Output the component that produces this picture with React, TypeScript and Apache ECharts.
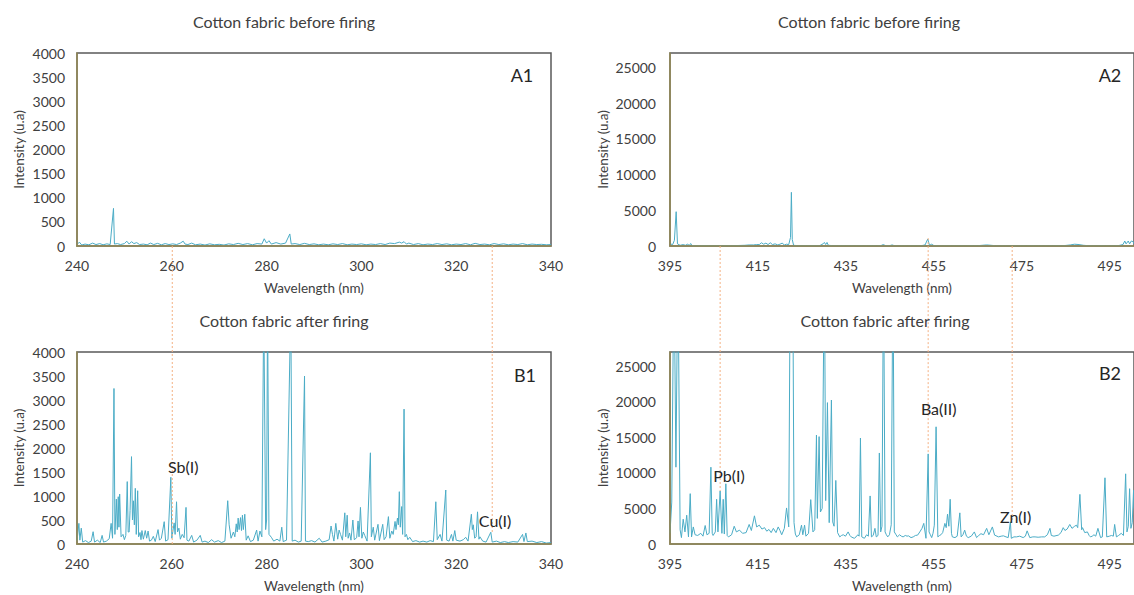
import { useEffect, useRef } from 'react';
import * as echarts from 'echarts';

// ---------- data: [wavelength (nm), intensity (u.a)] ----------
const a1Spectrum: number[][] = [
  [240.0, 30], [240.5, 80], [241.0, 20], [241.7, 40], [242.5, 25], [243.3, 60], [244.0, 30], [244.8, 50],
  [245.5, 25], [246.3, 45], [247.0, 30], [247.7, 780], [247.9, 40], [248.5, 50], [249.2, 30], [250.0, 50],
  [250.5, 100], [251.0, 40], [251.5, 90], [252.0, 50], [252.6, 70], [253.2, 30], [254.0, 40], [254.8, 25],
  [255.5, 60], [256.2, 30], [257.0, 55], [257.8, 25], [258.6, 50], [259.4, 30], [260.2, 45], [261.0, 30],
  [261.8, 60], [262.4, 100], [262.8, 40], [263.4, 30], [264.2, 60], [265.0, 25], [266.0, 40], [267.0, 20],
  [268.0, 45], [269.0, 25], [270.0, 35], [271.0, 20], [272.0, 45], [273.0, 30], [274.0, 55], [275.0, 30],
  [276.0, 50], [277.0, 25], [278.0, 50], [279.0, 40], [279.5, 150], [280.0, 60], [280.5, 110], [281.0, 40],
  [282.0, 70], [283.0, 40], [284.0, 60], [284.9, 250], [285.2, 40], [286.0, 50], [287.0, 30], [288.0, 55],
  [289.0, 30], [290.0, 45], [291.0, 25], [292.0, 40], [293.0, 25], [294.0, 45], [295.0, 30], [296.0, 50],
  [297.0, 25], [298.0, 40], [299.0, 30], [300.0, 45], [301.0, 25], [302.0, 40], [303.0, 30], [304.0, 50],
  [305.0, 30], [306.0, 60], [307.0, 50], [308.0, 80], [308.5, 60], [309.0, 90], [309.5, 40], [310.0, 60],
  [311.0, 30], [312.0, 50], [313.0, 25], [314.0, 40], [315.0, 30], [316.0, 50], [317.0, 30], [318.0, 45],
  [319.0, 25], [320.0, 40], [321.0, 30], [322.0, 50], [323.0, 25], [324.0, 55], [325.0, 30], [326.0, 40],
  [327.0, 25], [328.0, 50], [329.0, 30], [330.0, 45], [331.0, 25], [332.0, 40], [333.0, 30], [334.0, 50],
  [335.0, 25], [336.0, 40], [337.0, 30], [338.0, 35], [339.0, 25], [340.0, 30],
];

const a2Spectrum: number[][] = [
  [395.0, 300], [395.6, 200], [396.0, 800], [396.4, 4800], [396.7, 300], [397.3, 100], [398.0, 200],
  [398.5, 100], [399.0, 250], [399.4, 80], [399.7, 350], [400.0, 60], [401.0, 50], [402.0, 40], [403.0, 60],
  [404.0, 40], [405.0, 30], [406.0, 50], [407.0, 30], [408.0, 60], [409.0, 40], [410.0, 60], [411.0, 80],
  [412.0, 100], [413.0, 150], [414.0, 150], [414.7, 200], [415.3, 200], [415.8, 450], [416.3, 250],
  [416.8, 400], [417.3, 200], [417.8, 450], [418.3, 200], [418.9, 300], [419.5, 150], [420.0, 250],
  [420.5, 400], [421.0, 150], [421.5, 250], [422.0, 200], [422.4, 1200], [422.6, 7510], [422.8, 900],
  [423.1, 100], [424.0, 50], [425.0, 40], [426.0, 60], [427.0, 40], [428.0, 60], [429.0, 40], [429.8, 300],
  [430.1, 500], [430.4, 200], [430.7, 500], [431.0, 100], [432.0, 50], [433.0, 40], [434.0, 60], [435.0, 40],
  [436.0, 50], [437.0, 30], [438.0, 50], [439.0, 30], [440.0, 40], [441.0, 60], [442.0, 40], [443.0, 70],
  [443.5, 200], [444.0, 50], [445.0, 60], [445.5, 150], [446.0, 50], [447.0, 30], [448.0, 40], [449.0, 30],
  [450.0, 40], [451.0, 50], [452.0, 30], [453.0, 150], [453.6, 980], [454.0, 100], [454.5, 250], [455.0, 60],
  [456.0, 40], [457.0, 30], [458.0, 50], [459.0, 30], [460.0, 40], [461.0, 50], [462.0, 30], [463.0, 40],
  [464.0, 60], [465.0, 50], [466.0, 100], [467.0, 150], [468.0, 100], [469.0, 40], [470.0, 30], [471.0, 40],
  [472.0, 30], [473.0, 40], [474.0, 30], [475.0, 40], [476.0, 30], [477.0, 50], [478.0, 30], [479.0, 40],
  [480.0, 30], [481.0, 50], [482.0, 40], [483.0, 60], [484.0, 50], [485.0, 80], [486.0, 150], [487.0, 250],
  [488.0, 200], [489.0, 100], [490.0, 50], [491.0, 40], [492.0, 30], [493.0, 50], [494.0, 40], [495.0, 30],
  [496.0, 50], [497.0, 60], [498.0, 200], [498.4, 700], [498.7, 300], [499.2, 700], [499.5, 300],
  [499.9, 700], [500.3, 600], [500.5, 300],
];

const b1Spectrum: number[][] = [
  [240.0, 60], [240.4, 430], [240.6, 80], [240.9, 330], [241.2, 40], [241.8, 70], [242.4, 30], [243.0, 60],
  [243.4, 256], [243.7, 40], [244.3, 80], [244.9, 30], [245.3, 180], [245.6, 40], [246.2, 60], [246.8, 110],
  [247.2, 430], [247.5, 120], [247.8, 3240], [248.0, 200], [248.3, 935], [248.5, 300], [248.7, 985],
  [248.85, 350], [249.0, 1040], [249.3, 150], [249.7, 200], [250.0, 90], [250.3, 180], [250.6, 1300],
  [250.8, 250], [251.0, 250], [251.2, 700], [251.5, 1820], [251.7, 500], [251.9, 900], [252.1, 400],
  [252.3, 1160], [252.5, 200], [252.8, 1110], [253.0, 150], [253.3, 240], [253.5, 90], [253.7, 280],
  [254.0, 100], [254.4, 280], [254.7, 120], [255.0, 270], [255.3, 60], [255.7, 80], [256.1, 160], [256.5, 50],
  [257.1, 300], [257.4, 80], [257.8, 120], [258.4, 465], [258.7, 60], [259.2, 90], [259.8, 1390], [260.0, 120],
  [260.5, 440], [260.7, 200], [261.0, 880], [261.2, 250], [261.5, 330], [261.8, 100], [262.2, 200], [262.6, 130],
  [263.0, 763], [263.2, 80], [263.6, 60], [264.2, 180], [264.6, 40], [265.3, 80], [266.0, 180], [266.4, 40],
  [267.0, 60], [267.7, 30], [268.4, 90], [269.0, 40], [269.8, 70], [270.5, 30], [271.2, 60], [271.8, 902],
  [272.1, 400], [272.5, 120], [273.0, 250], [273.3, 150], [273.6, 420], [273.8, 250], [274.0, 540], [274.2, 300],
  [274.5, 550], [274.7, 280], [274.9, 600], [275.1, 300], [275.4, 620], [275.7, 80], [276.1, 170], [276.6, 50],
  [277.2, 80], [277.9, 290], [278.2, 60], [278.6, 270], [279.0, 150], [279.4, 5000], [279.8, 300], [280.0, 500],
  [280.2, 5000], [280.5, 200], [281.0, 140], [281.5, 60], [282.2, 100], [282.8, 60], [283.2, 350], [283.5, 50],
  [284.2, 80], [285.1, 5000], [285.4, 60], [286.0, 80], [286.7, 40], [287.3, 60], [288.0, 3500], [288.2, 60],
  [288.8, 50], [289.5, 70], [290.2, 40], [291.1, 120], [291.7, 40], [292.5, 60], [293.2, 90], [293.6, 375],
  [293.9, 200], [294.2, 60], [294.6, 430], [295.0, 100], [295.3, 290], [295.6, 200], [296.0, 80], [296.5, 650],
  [296.7, 150], [297.0, 600], [297.2, 120], [297.5, 230], [297.8, 80], [298.2, 500], [298.5, 90], [299.0, 130],
  [299.3, 480], [299.5, 150], [299.8, 763], [300.1, 120], [300.4, 250], [300.7, 180], [301.2, 60], [301.9, 1900],
  [302.1, 150], [302.5, 350], [302.8, 80], [303.5, 410], [303.8, 70], [304.5, 410], [304.8, 90], [305.2, 150],
  [305.7, 570], [306.0, 120], [306.4, 270], [306.7, 200], [307.1, 470], [307.3, 300], [307.6, 540], [307.8, 400],
  [308.0, 1090], [308.2, 350], [308.5, 780], [308.7, 200], [309.0, 2810], [309.2, 150], [309.5, 200], [309.8, 90],
  [310.2, 140], [310.8, 50], [311.5, 70], [312.3, 40], [313.0, 60], [313.8, 40], [314.5, 70], [315.2, 50],
  [315.7, 880], [316.0, 90], [316.6, 200], [317.0, 60], [317.8, 1125], [318.0, 80], [318.5, 60], [319.0, 200],
  [319.3, 60], [319.7, 280], [320.0, 80], [320.8, 60], [321.5, 90], [322.0, 140], [322.5, 60], [323.2, 620],
  [323.4, 300], [323.6, 400], [323.9, 120], [324.2, 150], [324.5, 670], [324.8, 100], [325.0, 150], [325.6, 60],
  [326.3, 40], [327.3, 245], [327.6, 40], [328.5, 60], [329.3, 30], [330.2, 50], [331.0, 30], [332.0, 50],
  [333.0, 40], [334.0, 200], [334.3, 50], [334.7, 230], [335.0, 50], [336.0, 60], [337.0, 30], [338.0, 50],
  [339.0, 20], [340.0, 30],
];

const b2Spectrum: number[][] = [
  [395.0, 1500], [395.4, 5900], [395.9, 40000], [396.35, 10800], [396.8, 40000], [397.3, 2000], [397.6, 900],
  [398.0, 3490], [398.4, 1700], [398.8, 4050], [399.2, 1000], [399.6, 7080], [399.9, 1000], [400.3, 2400],
  [400.7, 1300], [401.3, 1200], [402.0, 1500], [402.5, 1100], [403.0, 2600], [403.4, 1300], [403.9, 1500],
  [404.3, 10800], [404.6, 1500], [404.8, 1200], [405.3, 1700], [405.6, 6290], [405.9, 1700], [406.4, 7450],
  [406.8, 1500], [407.1, 6290], [407.35, 1400], [407.7, 8470], [408.0, 1200], [408.3, 1000], [409.0, 1300],
  [409.6, 2500], [410.1, 1700], [410.8, 1950], [411.5, 1500], [412.3, 1600], [413.0, 2750], [413.5, 1900],
  [414.2, 3960], [414.7, 2400], [415.3, 2650], [415.9, 2100], [416.5, 2300], [417.0, 1800], [417.5, 2050],
  [418.0, 1600], [418.5, 2200], [419.1, 1600], [419.6, 2400], [420.0, 1900], [420.4, 1300], [421.0, 2200],
  [421.5, 5070], [422.0, 2400], [422.35, 40000], [422.9, 40000], [423.2, 3000], [423.5, 1400], [423.8, 1000],
  [424.4, 1300], [424.9, 2650], [425.2, 1300], [425.6, 2650], [425.9, 1100], [426.5, 1500], [427.0, 6240],
  [427.5, 1700], [427.9, 2000], [428.3, 15320], [428.5, 3600], [428.9, 15100], [429.2, 4500], [429.6, 5000],
  [430.1, 40000], [430.4, 6100], [430.8, 19880], [431.2, 3000], [431.7, 20250], [432.0, 3100], [432.3, 2500],
  [432.7, 8940], [433.1, 1600], [433.6, 1000], [434.0, 1200], [434.4, 1300], [434.9, 1100], [435.5, 1700],
  [435.9, 1200], [436.2, 1000], [436.9, 800], [437.3, 1000], [437.7, 1300], [438.0, 1100], [438.3, 14900],
  [438.6, 1000], [439.2, 800], [439.7, 1300], [440.1, 1100], [440.5, 6760], [440.8, 1000], [441.2, 1200],
  [441.6, 2200], [441.9, 1000], [442.3, 1200], [442.6, 12800], [442.9, 1700], [443.2, 2500], [443.55, 40000],
  [443.9, 1700], [444.2, 1300], [444.5, 1000], [444.9, 1300], [445.3, 2700], [445.7, 40000], [446.0, 1700],
  [446.4, 1300], [446.7, 1000], [447.2, 1300], [447.6, 1100], [448.0, 1000], [448.5, 1200], [448.9, 1100],
  [449.2, 1150], [449.8, 900], [450.3, 1000], [450.8, 1200], [451.3, 1250], [451.8, 1700], [452.3, 2200],
  [452.7, 2900], [453.2, 800], [453.7, 12670], [453.9, 1700], [454.2, 1300], [454.5, 900], [454.8, 1500],
  [455.1, 2650], [455.5, 16480], [455.9, 1000], [456.3, 1200], [456.6, 1300], [457.0, 1600], [457.5, 2900],
  [457.8, 2300], [458.1, 4190], [458.4, 2500], [458.7, 6290], [459.0, 1500], [459.2, 1000], [459.8, 900],
  [460.3, 1100], [460.9, 4380], [461.2, 1000], [461.6, 1300], [462.0, 1950], [462.4, 1100], [462.8, 900],
  [463.5, 1100], [464.2, 1700], [464.7, 900], [465.2, 1200], [465.7, 1450], [466.3, 1300], [467.0, 2200],
  [467.5, 1300], [468.3, 2400], [468.8, 1250], [469.7, 1000], [470.3, 1100], [470.8, 1150], [471.4, 1000],
  [471.9, 900], [472.4, 3120], [472.6, 800], [473.2, 1000], [473.8, 1000], [474.5, 1100], [475.3, 900],
  [475.8, 1100], [476.2, 1850], [476.8, 900], [477.5, 1000], [478.0, 1000], [478.7, 950], [479.5, 1000],
  [480.2, 1000], [480.8, 1300], [481.4, 2200], [481.7, 1200], [482.3, 1100], [483.3, 1250], [483.9, 1600],
  [484.4, 2300], [484.8, 1900], [485.3, 2100], [485.9, 2750], [486.4, 2200], [487.0, 2500], [487.4, 2650],
  [487.7, 2300], [488.2, 6980], [488.6, 2000], [488.8, 2300], [489.3, 1600], [489.9, 1700], [490.3, 1200],
  [490.6, 1000], [491.0, 1100], [491.4, 1300], [491.8, 1100], [492.3, 2200], [492.9, 900], [493.3, 1000],
  [493.9, 9310], [494.3, 1000], [494.9, 1100], [495.4, 1200], [495.8, 1100], [496.1, 2750], [496.5, 1000],
  [497.0, 1200], [497.6, 1500], [498.1, 1200], [498.6, 9870], [498.9, 1700], [499.2, 2500], [499.5, 7780],
  [499.8, 2200], [500.1, 3000], [500.4, 7550], [500.5, 5000],
];

const leftXTicks = [240, 260, 280, 300, 320, 340];
const rightXTicks = [395, 415, 435, 455, 475, 495];
const leftYTicks = [0, 500, 1000, 1500, 2000, 2500, 3000, 3500, 4000];
const rightYTicks = [0, 5000, 10000, 15000, 20000, 25000];

const panelTitles = ['Cotton fabric before firing', 'Cotton fabric before firing', 'Cotton fabric after firing', 'Cotton fabric after firing'];
const panelLabels = ['A1', 'A2', 'B1', 'B2'];

// element annotations in panel B (wavelength, intensity of label centre)
const b1Annotations = [
  { text: 'Sb(I)', x: 262.4, y: 1620 },
  { text: 'Cu(I)', x: 328.2, y: 500 },
];
const b2Annotations = [
  { text: 'Pb(I)', x: 408.4, y: 9640 },
  { text: 'Ba(II)', x: 456.1, y: 19070 },
  { text: 'Zn(I)', x: 473.6, y: 3840 },
];

// dotted connector lines: wavelength, start intensity in A panel, end intensity in B panel
const leftConnectors = [
  { x: 260.1, from: 0, to: 0 },
  { x: 327.6, from: 0, to: 245 },
];
const rightConnectors = [
  { x: 406.4, from: 0, to: 7450 },
  { x: 453.7, from: 1100, to: 12670 },
  { x: 472.8, from: 0, to: 3120 },
];

const FONT = 'Lato, "Open Sans", sans-serif';
const TEXT = '#404040';
const LINE = '#4bacc6';

export default function App() {
  const ref = useRef<HTMLDivElement>(null);

  useEffect(() => {
    if (!ref.current) return;
    const chart = echarts.init(ref.current, null, { renderer: 'svg' });

    const grids = [
      { left: 77, top: 53, width: 474, height: 193 },
      { left: 670, top: 53, width: 464, height: 193 },
      { left: 77, top: 352, width: 474, height: 192 },
      { left: 670, top: 352, width: 464, height: 192 },
    ].map((g) => ({ ...g, show: true, borderColor: '#595959', borderWidth: 1.5, backgroundColor: 'transparent' }));

    const xAxis = [0, 1, 2, 3].map((i) => {
      const left = i % 2 === 0;
      return {
        type: 'value',
        gridIndex: i,
        min: left ? 240 : 395,
        max: left ? 340 : 500.5,
        ...(left ? { interval: 20 } : {}),
        axisLine: { show: true, onZero: false, lineStyle: { color: '#948a54', width: 1.5 } },
        axisTick: { show: false },
        splitLine: { show: false },
        axisLabel: {
          color: TEXT, fontSize: 14, fontFamily: FONT, margin: 12,
          customValues: left ? leftXTicks : rightXTicks,
          formatter: (v: number) => String(v),
        },
        name: 'Wavelength (nm)',
        nameLocation: 'middle',
        nameGap: 35,
        nameTextStyle: { color: TEXT, fontSize: 13.5, fontFamily: FONT },
        z: 3,
      };
    });

    const yAxis = [0, 1, 2, 3].map((i) => {
      const left = i % 2 === 0;
      return {
        type: 'value',
        gridIndex: i,
        min: 0,
        max: left ? 4000 : 27000,
        interval: left ? 500 : 5000,
        axisLine: { show: true, onZero: false, lineStyle: { color: '#948a54', width: 1.5 } },
        axisTick: { show: false },
        splitLine: { show: false },
        axisLabel: {
          color: TEXT, fontSize: 14, fontFamily: FONT, margin: left ? 12 : 14,
          customValues: left ? leftYTicks : rightYTicks,
          formatter: (v: number) => String(v),
        },
        name: 'Intensity (u.a)',
        nameLocation: 'middle',
        nameGap: left ? 51 : 60,
        nameTextStyle: { color: TEXT, fontSize: 13.5, fontFamily: FONT },
        z: 3,
      };
    });

    const spectra = [a1Spectrum, a2Spectrum, b1Spectrum, b2Spectrum];
    const series = spectra.map((data, i) => ({
      type: 'line',
      xAxisIndex: i,
      yAxisIndex: i,
      data,
      symbol: 'none',
      showSymbol: false,
      clip: true,
      lineStyle: { color: LINE, width: 1 },
      z: 2,
    }));

    chart.setOption({
      animation: false,
      backgroundColor: '#ffffff',
      grid: grids,
      xAxis,
      yAxis,
      series,
    });

    const toPx = (gi: number, x: number, y: number) =>
      chart.convertToPixel({ gridIndex: gi }, [x, y]) as number[];

    const graphic: any[] = [];

    const addConnectors = (conns: { x: number; from: number; to: number }[], gTop: number, gBot: number) => {
      conns.forEach((c) => {
        const p1 = toPx(gTop, c.x, c.from);
        const p2 = toPx(gBot, c.x, c.to);
        graphic.push({
          type: 'line',
          z: 5,
          shape: { x1: p1[0], y1: p1[1], x2: p2[0], y2: p2[1] },
          style: { stroke: '#f4b183', lineWidth: 1, lineDash: [2, 2] },
        });
      });
    };
    addConnectors(leftConnectors, 0, 2);
    addConnectors(rightConnectors, 1, 3);

    const titlePos = [
      [284, 21], [869, 21], [284, 320], [885, 320],
    ];
    panelTitles.forEach((t, i) => {
      graphic.push({
        type: 'text', x: titlePos[i][0], y: titlePos[i][1], z: 10,
        style: { text: t, fill: TEXT, fontSize: 16, fontFamily: FONT, align: 'center', verticalAlign: 'middle' },
      });
    });
    const labelPos = [
      [522, 75], [1110, 75], [525, 375], [1110, 373],
    ];
    panelLabels.forEach((t, i) => {
      graphic.push({
        type: 'text', x: labelPos[i][0], y: labelPos[i][1], z: 10,
        style: { text: t, fill: '#262626', fontSize: 18, fontFamily: FONT, align: 'center', verticalAlign: 'middle' },
      });
    });

    const addAnn = (anns: { text: string; x: number; y: number }[], gi: number) => {
      anns.forEach((a) => {
        const p = toPx(gi, a.x, a.y);
        graphic.push({
          type: 'text', x: p[0], y: p[1], z: 10,
          style: { text: a.text, fill: '#262626', fontSize: 16, fontFamily: FONT, align: 'center', verticalAlign: 'middle' },
        });
      });
    };
    addAnn(b1Annotations, 2);
    addAnn(b2Annotations, 3);

    chart.setOption({ graphic });

    return () => chart.dispose();
  }, []);

  return (
    <div
      ref={ref}
      style={{ position: 'fixed', left: 0, top: 0, width: 1134, height: 595 }}
    />
  );
}
